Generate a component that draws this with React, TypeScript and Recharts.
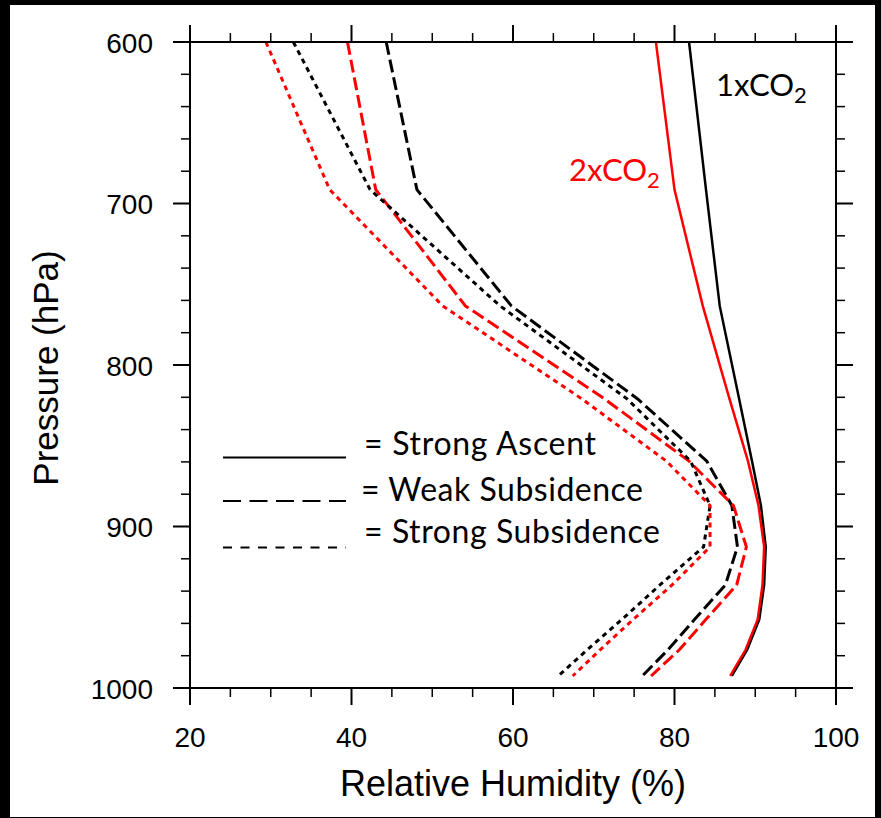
import React from "react";
import { LineChart, Line, XAxis, YAxis } from "recharts";

// Pressure levels (hPa) of the model (top value at 600 hPa edge)
const levels = [600, 691.39, 763.4, 820.86, 859.53, 887.02, 912.64, 936.2, 957.49, 976.33, 992.56];

// Relative humidity (%) profiles
const ascent1x = [81.8, 83.9, 85.6, 88.0, 89.6, 90.7, 91.3, 91.1, 90.5, 89.0, 87.1];
const ascent2x = [77.7, 80.0, 83.5, 86.8, 89.1, 90.4, 91.1, 90.9, 90.3, 88.8, 86.9];
const weakSub1x = [44.3, 48.1, 59.8, 75.4, 84.0, 87.1, 87.8, 86.3, 82.5, 79.2, 76.0];
const weakSub2x = [39.5, 43.0, 54.1, 71.3, 81.8, 87.3, 88.9, 87.7, 83.9, 80.6, 77.1];
const strongSub1x = [32.8, 42.3, 58.4, 74.1, 82.0, 84.4, 83.6, 78.2, 73.5, 69.2, 65.6];
const strongSub2x = [29.4, 37.3, 51.3, 68.5, 79.0, 84.4, 84.4, 79.7, 74.9, 70.8, 67.4];

const xTicks = [20, 25, 30, 35, 40, 45, 50, 55, 60, 65, 70, 75, 80, 85, 90, 95, 100];
const xMajor = [20, 40, 60, 80, 100];
const yTicks = [600, 620, 640, 660, 680, 700, 720, 740, 760, 780, 800, 820, 840, 860, 880, 900, 920, 940, 960, 980, 1000];
const yMajor = [600, 700, 800, 900, 1000];

const legendItems = ["= Strong Ascent", "= Weak Subsidence", "= Strong Subsidence"];
const xTitle = "Relative Humidity (%)";
const yTitle = "Pressure (hPa)";

const toSeries = (vals: number[]) => vals.map((rh, i) => ({ rh, p: levels[i] }));

const TICK_FONT = "'Liberation Sans', Arial, Helvetica, sans-serif";
const TEXT_FONT = "Lato, 'Noto Sans', sans-serif";

const BottomTick = (props: any) => {
  const { x, y, payload } = props;
  const major = xMajor.includes(payload.value);
  return (
    <g>
      <line x1={x} y1={y} x2={x} y2={y + (major ? 17 : 9)} stroke="#000" strokeWidth={major ? 2 : 1.5} />
      {major && (
        <text x={x} y={y + 58.5} textAnchor="middle" fontFamily={TICK_FONT} fontSize={28} fill="#000">
          {payload.value}
        </text>
      )}
    </g>
  );
};

const TopTick = (props: any) => {
  const { x, y, payload } = props;
  const major = xMajor.includes(payload.value);
  return <line x1={x} y1={y} x2={x} y2={y - (major ? 17 : 9)} stroke="#000" strokeWidth={major ? 2 : 1.5} />;
};

const LeftTick = (props: any) => {
  const { x, y, payload } = props;
  const major = yMajor.includes(payload.value);
  return (
    <g>
      <line x1={x} y1={y} x2={x - (major ? 17 : 9)} y2={y} stroke="#000" strokeWidth={major ? 2 : 1.5} />
      {major && (
        <text x={x - 37} y={y + 10.5} textAnchor="end" fontFamily={TICK_FONT} fontSize={28} fill="#000">
          {payload.value}
        </text>
      )}
    </g>
  );
};

const RightTick = (props: any) => {
  const { x, y, payload } = props;
  const major = yMajor.includes(payload.value);
  return <line x1={x} y1={y} x2={x + (major ? 17 : 9)} y2={y} stroke="#000" strokeWidth={major ? 2 : 1.5} />;
};

const XTitle = (props: any) => {
  const vb = props.viewBox;
  return (
    <text x={vb.x + vb.width / 2} y={vb.y + 108} textAnchor="middle" fontFamily={TICK_FONT} fontSize={36} fill="#000">
      {xTitle}
    </text>
  );
};

const YTitle = (props: any) => {
  const vb = props.viewBox;
  const cx = 58;
  const cy = vb.y + vb.height / 2 + 3;
  return (
    <text x={cx} y={cy} transform={`rotate(-90 ${cx} ${cy})`} textAnchor="middle" fontFamily={TICK_FONT} fontSize={35} fill="#000">
      {yTitle}
    </text>
  );
};

const series = [
  { data: ascent1x, color: "#000", dash: undefined as string | undefined, w: 2.5 },
  { data: ascent2x, color: "#ff0000", dash: undefined as string | undefined, w: 2.5 },
  { data: weakSub1x, color: "#000", dash: "13 5", w: 3 },
  { data: weakSub2x, color: "#ff0000", dash: "13 5", w: 3 },
  { data: strongSub1x, color: "#000", dash: "5 4.5", w: 3 },
  { data: strongSub2x, color: "#ff0000", dash: "5 4.5", w: 3 },
];

export default function App() {
  return (
    <div style={{ position: "fixed", left: 0, top: 0, width: 881, height: 818, background: "#000" }}>
      <div style={{ position: "absolute", left: 10, top: 5, width: 865, height: 812, background: "#fff" }} />
      <div style={{ position: "absolute", left: 0, top: 0 }}>
        <LineChart width={881} height={818} margin={{ top: 12, right: 5, bottom: 100, left: 130 }}>
          <XAxis
            xAxisId="bottom"
            type="number"
            dataKey="rh"
            domain={[20, 100]}
            ticks={xTicks}
            interval={0}
            allowDataOverflow
            orientation="bottom"
            height={30}
            tickSize={0}
            tickMargin={0}
            tickLine={false}
            axisLine={{ stroke: "#000", strokeWidth: 2 }}
            tick={<BottomTick />}
            label={<XTitle />}
          />
          <XAxis
            xAxisId="top"
            type="number"
            dataKey="rh"
            domain={[20, 100]}
            ticks={xTicks}
            interval={0}
            allowDataOverflow
            orientation="top"
            height={30}
            tickSize={0}
            tickMargin={0}
            tickLine={false}
            axisLine={{ stroke: "#000", strokeWidth: 2 }}
            tick={<TopTick />}
          />
          <YAxis
            yAxisId="left"
            type="number"
            domain={[600, 1000]}
            ticks={yTicks}
            interval={0}
            reversed
            allowDataOverflow
            orientation="left"
            width={60}
            tickSize={0}
            tickMargin={0}
            tickLine={false}
            axisLine={{ stroke: "#000", strokeWidth: 2 }}
            tick={<LeftTick />}
            label={<YTitle />}
          />
          <YAxis
            yAxisId="right"
            type="number"
            domain={[600, 1000]}
            ticks={yTicks}
            interval={0}
            reversed
            allowDataOverflow
            orientation="right"
            width={40}
            tickSize={0}
            tickMargin={0}
            tickLine={false}
            axisLine={{ stroke: "#000", strokeWidth: 2 }}
            tick={<RightTick />}
          />
          {series.map((s, i) => (
            <Line
              key={i}
              xAxisId="bottom"
              yAxisId="left"
              data={toSeries(s.data)}
              dataKey="p"
              type="linear"
              stroke={s.color}
              strokeWidth={s.w}
              strokeDasharray={s.dash}
              dot={false}
              activeDot={false}
              isAnimationActive={false}
            />
          ))}
        </LineChart>
      </div>
      <svg width={881} height={818} style={{ position: "absolute", left: 0, top: 0, pointerEvents: "none" }}>
        <line x1={223} y1={457.5} x2={346} y2={457.5} stroke="#000" strokeWidth={2.2} />
        <line x1={223} y1={501} x2={346} y2={501} stroke="#000" strokeWidth={2.2} strokeDasharray="18 8.5" />
        <line x1={223} y1={547.5} x2={346} y2={547.5} stroke="#000" strokeWidth={2.2} strokeDasharray="9 8.5" />
        <text x={364} y={455} fontFamily={TEXT_FONT} fontSize={32} fill="#000" textLength={232} lengthAdjust="spacing">
          {legendItems[0]}
        </text>
        <text x={361} y={501} fontFamily={TEXT_FONT} fontSize={32} fill="#000" textLength={282} lengthAdjust="spacing">
          {legendItems[1]}
        </text>
        <text x={364} y={543} fontFamily={TEXT_FONT} fontSize={32} fill="#000" textLength={296} lengthAdjust="spacing">
          {legendItems[2]}
        </text>
        <text x={716} y={96} fontFamily={TEXT_FONT} fontSize={31} fill="#000">
          1xCO<tspan dy={7} fontSize={22}>2</tspan>
        </text>
        <text x={569} y={181} fontFamily={TEXT_FONT} fontSize={31} fill="#ff0000">
          2xCO<tspan dy={7} fontSize={22}>2</tspan>
        </text>
      </svg>
    </div>
  );
}
